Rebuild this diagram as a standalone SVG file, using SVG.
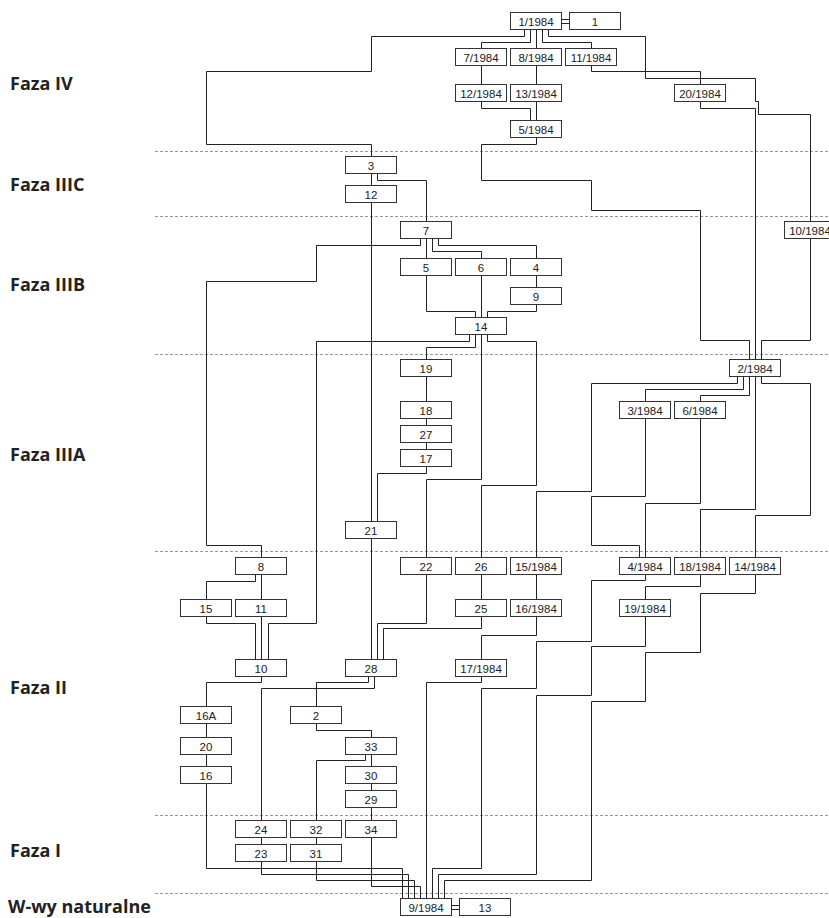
<svg xmlns="http://www.w3.org/2000/svg" width="829" height="918" viewBox="0 0 829 918">
<style>
.bx rect{fill:#fff;stroke:#333;stroke-width:1}
.bx text{font-family:"Liberation Sans",Arial,sans-serif;font-size:11.5px;fill:#222;text-anchor:middle}
.cn path{fill:none;stroke:#222;stroke-width:1}
.ph{font-family:"Open Sans","Liberation Sans",sans-serif;font-weight:bold;font-size:18px;fill:#222}
.dl{stroke:#999;stroke-width:1;stroke-dasharray:3 2}
</style>
<rect width="829" height="918" fill="#fff"/>
<g id="phases">
<line class="dl" x1="155" y1="151.5" x2="829" y2="151.5"/>
<line class="dl" x1="155" y1="216.5" x2="829" y2="216.5"/>
<line class="dl" x1="155" y1="354.5" x2="829" y2="354.5"/>
<line class="dl" x1="155" y1="551.5" x2="829" y2="551.5"/>
<line class="dl" x1="155" y1="815.5" x2="829" y2="815.5"/>
<line class="dl" x1="155" y1="893.5" x2="829" y2="893.5"/>
<text class="ph" x="10" y="90">Faza IV</text>
<text class="ph" x="10" y="191">Faza IIIC</text>
<text class="ph" x="10" y="291">Faza IIIB</text>
<text class="ph" x="10" y="461">Faza IIIA</text>
<text class="ph" x="10" y="694">Faza II</text>
<text class="ph" x="10" y="857">Faza I</text>
<text class="ph" x="8" y="913">W-wy naturalne</text>
</g>
<g id="connectors" class="cn">
<path d="M524.5,29.5 V36.5 H371.5 V71.5 H206.5 V144.5 H371.5 V156.5"/>
<path d="M530.5,29.5 V42.5 H481.5 V48.5"/>
<path d="M536.5,29.5 V48.5"/>
<path d="M542.5,29.5 V42.5 H591.5 V48.5"/>
<path d="M548.5,29.5 V36.5 H645.5 V78.5 H755.5 V101.5 H758.5 V114.5 H810.5 V221.5"/>
<path d="M481.5,65.5 V84.5"/>
<path d="M536.5,65.5 V84.5"/>
<path d="M591.5,65.5 V71.5 H700.5 V84.5"/>
<path d="M481.5,101.5 V108.5 H530.5 V120.5"/>
<path d="M536.5,101.5 V120.5"/>
<path d="M700.5,101.5 V108.5 H755.5 V359.5"/>
<path d="M536.5,137.5 V144.5 H481.5 V180.5 H591.5 V210.5 H700.5 V340.5 H749.5 V359.5"/>
<path d="M371.5,173.5 V185.5"/>
<path d="M377.5,173.5 V180.5 H426.5 V221.5"/>
<path d="M371.5,202.5 V521.5"/>
<path d="M810.5,238.5 V340.5 H761.5 V359.5"/>
<path d="M420.5,238.5 V245.5 H316.5 V281.5 H206.5 V545.5 H261.5 V557.5"/>
<path d="M426.5,238.5 V258.5"/>
<path d="M432.5,238.5 V251.5 H481.5 V258.5"/>
<path d="M438.5,238.5 V245.5 H536.5 V258.5"/>
<path d="M426.5,275.5 V311.5 H475.5 V317.5"/>
<path d="M481.5,275.5 V317.5"/>
<path d="M536.5,275.5 V287.5"/>
<path d="M536.5,304.5 V311.5 H487.5 V317.5"/>
<path d="M469.5,334.5 V341.5 H316.5 V623.5 H268.5 V659.5"/>
<path d="M475.5,334.5 V347.5 H426.5 V359.5"/>
<path d="M481.5,334.5 V479.5 H426.5 V557.5"/>
<path d="M487.5,334.5 V341.5 H536.5 V485.5 H481.5 V557.5"/>
<path d="M426.5,376.5 V401.5"/>
<path d="M426.5,418.5 V425.5"/>
<path d="M426.5,442.5 V449.5"/>
<path d="M426.5,466.5 V473.5 H377.5 V521.5"/>
<path d="M371.5,538.5 V659.5"/>
<path d="M737.5,376.5 V383.5 H591.5 V491.5 H536.5 V557.5"/>
<path d="M743.5,376.5 V389.5 H645.5 V401.5"/>
<path d="M749.5,376.5 V395.5 H700.5 V401.5"/>
<path d="M755.5,376.5 V509.5 H700.5 V557.5"/>
<path d="M761.5,376.5 V383.5 H810.5 V515.5 H755.5 V557.5"/>
<path d="M645.5,418.5 V496.5 H591.5 V545.5 H639.5 V557.5"/>
<path d="M700.5,418.5 V503.5 H645.5 V557.5"/>
<path d="M255.5,574.5 V581.5 H206.5 V599.5"/>
<path d="M261.5,574.5 V599.5"/>
<path d="M426.5,574.5 V623.5 H377.5 V659.5"/>
<path d="M481.5,574.5 V599.5"/>
<path d="M536.5,574.5 V599.5"/>
<path d="M645.5,574.5 V580.5 H591.5 V641.5 H536.5 V688.5 H481.5 V868.5 H432.5 V898.5"/>
<path d="M700.5,574.5 V586.5 H645.5 V599.5"/>
<path d="M755.5,574.5 V593.5 H700.5 V652.5 H645.5 V701.5 H591.5 V880.5 H444.5 V898.5"/>
<path d="M206.5,616.5 V623.5 H255.5 V659.5"/>
<path d="M261.5,616.5 V659.5"/>
<path d="M481.5,616.5 V628.5 H383.5 V659.5"/>
<path d="M536.5,616.5 V635.5 H481.5 V659.5"/>
<path d="M645.5,616.5 V646.5 H591.5 V695.5 H536.5 V874.5 H438.5 V898.5"/>
<path d="M261.5,676.5 V682.5 H206.5 V706.5"/>
<path d="M368.5,676.5 V682.5 H316.5 V706.5"/>
<path d="M374.5,676.5 V688.5 H261.5 V820.5"/>
<path d="M481.5,676.5 V682.5 H426.5 V898.5"/>
<path d="M206.5,723.5 V737.5"/>
<path d="M316.5,723.5 V730.5 H371.5 V737.5"/>
<path d="M206.5,754.5 V766.5"/>
<path d="M365.5,754.5 V760.5 H316.5 V820.5"/>
<path d="M371.5,754.5 V766.5"/>
<path d="M371.5,783.5 V790.5"/>
<path d="M371.5,807.5 V820.5"/>
<path d="M206.5,783.5 V868.5 H402.5 V898.5"/>
<path d="M261.5,837.5 V844.5"/>
<path d="M316.5,837.5 V844.5"/>
<path d="M371.5,837.5 V886.5 H420.5 V898.5"/>
<path d="M261.5,861.5 V874.5 H408.5 V898.5"/>
<path d="M316.5,861.5 V880.5 H414.5 V898.5"/>
<path d="M561.5,19.5 H569.5 M561.5,23.5 H569.5"/>
<path d="M451.5,905.5 H459.5 M451.5,909.5 H459.5"/>
</g>
<g class="bx">
<g id="n1_1984"><rect x="510.5" y="12.5" width="51" height="17"/><text x="536" y="25.5">1/1984</text></g>
<g id="n1"><rect x="569.5" y="12.5" width="51" height="17"/><text x="595" y="25.5">1</text></g>
<g id="n7_1984"><rect x="455.5" y="48.5" width="51" height="17"/><text x="481" y="61.5">7/1984</text></g>
<g id="n8_1984"><rect x="510.5" y="48.5" width="51" height="17"/><text x="536" y="61.5">8/1984</text></g>
<g id="n11_1984"><rect x="565.5" y="48.5" width="51" height="17"/><text x="591" y="61.5">11/1984</text></g>
<g id="n12_1984"><rect x="455.5" y="84.5" width="51" height="17"/><text x="481" y="97.5">12/1984</text></g>
<g id="n13_1984"><rect x="510.5" y="84.5" width="51" height="17"/><text x="536" y="97.5">13/1984</text></g>
<g id="n20_1984"><rect x="674.5" y="84.5" width="51" height="17"/><text x="700" y="97.5">20/1984</text></g>
<g id="n5_1984"><rect x="510.5" y="120.5" width="51" height="17"/><text x="536" y="133.5">5/1984</text></g>
<g id="n3"><rect x="345.5" y="156.5" width="51" height="17"/><text x="371" y="169.5">3</text></g>
<g id="n12"><rect x="345.5" y="185.5" width="51" height="17"/><text x="371" y="198.5">12</text></g>
<g id="n7"><rect x="400.5" y="221.5" width="51" height="17"/><text x="426" y="234.5">7</text></g>
<g id="n10_1984"><rect x="784.5" y="221.5" width="51" height="17"/><text x="810" y="234.5">10/1984</text></g>
<g id="n5"><rect x="400.5" y="258.5" width="51" height="17"/><text x="426" y="271.5">5</text></g>
<g id="n6"><rect x="455.5" y="258.5" width="51" height="17"/><text x="481" y="271.5">6</text></g>
<g id="n4"><rect x="510.5" y="258.5" width="51" height="17"/><text x="536" y="271.5">4</text></g>
<g id="n9"><rect x="510.5" y="287.5" width="51" height="17"/><text x="536" y="300.5">9</text></g>
<g id="n14"><rect x="455.5" y="317.5" width="51" height="17"/><text x="481" y="330.5">14</text></g>
<g id="n19"><rect x="400.5" y="359.5" width="51" height="17"/><text x="426" y="372.5">19</text></g>
<g id="n2_1984"><rect x="729.5" y="359.5" width="51" height="17"/><text x="755" y="372.5">2/1984</text></g>
<g id="n18"><rect x="400.5" y="401.5" width="51" height="17"/><text x="426" y="414.5">18</text></g>
<g id="n3_1984"><rect x="619.5" y="401.5" width="51" height="17"/><text x="645" y="414.5">3/1984</text></g>
<g id="n6_1984"><rect x="674.5" y="401.5" width="51" height="17"/><text x="700" y="414.5">6/1984</text></g>
<g id="n27"><rect x="400.5" y="425.5" width="51" height="17"/><text x="426" y="438.5">27</text></g>
<g id="n17"><rect x="400.5" y="449.5" width="51" height="17"/><text x="426" y="462.5">17</text></g>
<g id="n21"><rect x="345.5" y="521.5" width="51" height="17"/><text x="371" y="534.5">21</text></g>
<g id="n8"><rect x="235.5" y="557.5" width="51" height="17"/><text x="261" y="570.5">8</text></g>
<g id="n22"><rect x="400.5" y="557.5" width="51" height="17"/><text x="426" y="570.5">22</text></g>
<g id="n26"><rect x="455.5" y="557.5" width="51" height="17"/><text x="481" y="570.5">26</text></g>
<g id="n15_1984"><rect x="510.5" y="557.5" width="51" height="17"/><text x="536" y="570.5">15/1984</text></g>
<g id="n4_1984"><rect x="619.5" y="557.5" width="51" height="17"/><text x="645" y="570.5">4/1984</text></g>
<g id="n18_1984"><rect x="674.5" y="557.5" width="51" height="17"/><text x="700" y="570.5">18/1984</text></g>
<g id="n14_1984"><rect x="729.5" y="557.5" width="51" height="17"/><text x="755" y="570.5">14/1984</text></g>
<g id="n15"><rect x="180.5" y="599.5" width="51" height="17"/><text x="206" y="612.5">15</text></g>
<g id="n11"><rect x="235.5" y="599.5" width="51" height="17"/><text x="261" y="612.5">11</text></g>
<g id="n25"><rect x="455.5" y="599.5" width="51" height="17"/><text x="481" y="612.5">25</text></g>
<g id="n16_1984"><rect x="510.5" y="599.5" width="51" height="17"/><text x="536" y="612.5">16/1984</text></g>
<g id="n19_1984"><rect x="619.5" y="599.5" width="51" height="17"/><text x="645" y="612.5">19/1984</text></g>
<g id="n10"><rect x="235.5" y="659.5" width="51" height="17"/><text x="261" y="672.5">10</text></g>
<g id="n28"><rect x="345.5" y="659.5" width="51" height="17"/><text x="371" y="672.5">28</text></g>
<g id="n17_1984"><rect x="455.5" y="659.5" width="51" height="17"/><text x="481" y="672.5">17/1984</text></g>
<g id="n16A"><rect x="180.5" y="706.5" width="51" height="17"/><text x="206" y="719.5">16A</text></g>
<g id="n2"><rect x="290.5" y="706.5" width="51" height="17"/><text x="316" y="719.5">2</text></g>
<g id="n20"><rect x="180.5" y="737.5" width="51" height="17"/><text x="206" y="750.5">20</text></g>
<g id="n33"><rect x="345.5" y="737.5" width="51" height="17"/><text x="371" y="750.5">33</text></g>
<g id="n16"><rect x="180.5" y="766.5" width="51" height="17"/><text x="206" y="779.5">16</text></g>
<g id="n30"><rect x="345.5" y="766.5" width="51" height="17"/><text x="371" y="779.5">30</text></g>
<g id="n29"><rect x="345.5" y="790.5" width="51" height="17"/><text x="371" y="803.5">29</text></g>
<g id="n24"><rect x="235.5" y="820.5" width="51" height="17"/><text x="261" y="833.5">24</text></g>
<g id="n32"><rect x="290.5" y="820.5" width="51" height="17"/><text x="316" y="833.5">32</text></g>
<g id="n34"><rect x="345.5" y="820.5" width="51" height="17"/><text x="371" y="833.5">34</text></g>
<g id="n23"><rect x="235.5" y="844.5" width="51" height="17"/><text x="261" y="857.5">23</text></g>
<g id="n31"><rect x="290.5" y="844.5" width="51" height="17"/><text x="316" y="857.5">31</text></g>
<g id="n9_1984"><rect x="400.5" y="898.5" width="51" height="17"/><text x="426" y="911.5">9/1984</text></g>
<g id="n13"><rect x="459.5" y="898.5" width="51" height="17"/><text x="485" y="911.5">13</text></g>
</g>
</svg>
